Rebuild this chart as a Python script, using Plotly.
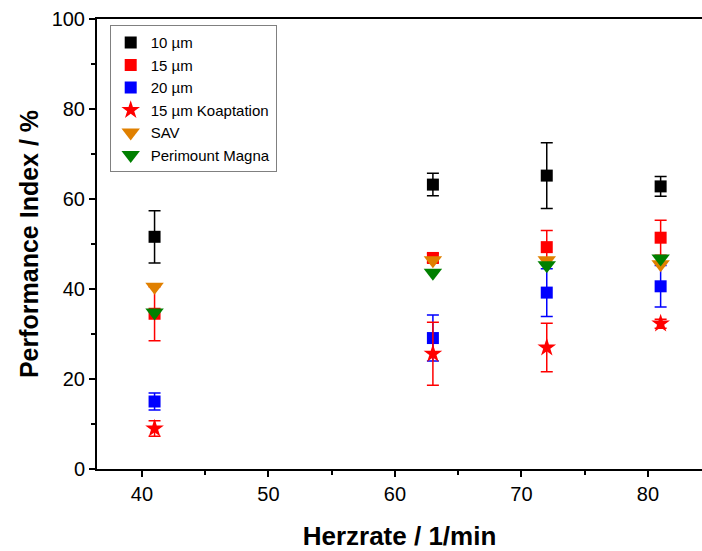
import plotly.graph_objects as go

x = [41, 63, 72, 81]

y10 = [51.6, 63.2, 65.2, 62.8]
e10 = [5.8, 2.5, 7.3, 2.2]

y15 = [34.5, 46.9, 49.3, 51.4]
e15 = [6.0, 1.0, 3.7, 3.9]

y20 = [15.0, 29.1, 39.2, 40.6]
e20 = [1.9, 5.1, 5.3, 4.6]

ykoap = [9.0, 25.6, 27.0, 32.3]
ekoap = [1.7, 7.0, 5.4, 1.0]

ysav = [40.5, 46.4, 46.4, 45.5]
ypm = [34.8, 43.6, 45.3, 46.8]

names = ["10 µm", "15 µm", "20 µm", "15 µm Koaptation", "SAV", "Perimount Magna"]

FONT = "Liberation Sans, Arial, sans-serif"

fig = go.Figure()

def add(yv, ev, name, color, symbol, size):
    fig.add_trace(go.Scatter(
        x=x, y=yv, name=name, mode="markers",
        marker=dict(color=color, symbol=symbol, size=size, line=dict(width=0)),
        error_y=dict(type="data", array=ev, visible=True, color=color,
                     thickness=1.5, width=6) if ev is not None else None,
    ))

add(y10, e10, names[0], "#000000", "square", 12)
add(y15, e15, names[1], "#ff0000", "square", 12)
add(y20, e20, names[2], "#0000ff", "square", 12)
add(ykoap, ekoap, names[3], "#ff0000", "star", 14)
add(ysav, None, names[4], "#e08000", "triangle-down", 16)
add(ypm, None, names[5], "#008000", "triangle-down", 16)

fig.update_layout(
    width=702, height=551,
    margin=dict(l=97, r=0, t=19, b=82, pad=0, autoexpand=False),
    plot_bgcolor="white", paper_bgcolor="white",
    font=dict(family=FONT, color="black", size=20),
    showlegend=True,
    legend=dict(x=0.021, y=0.986, xanchor="left", yanchor="top",
                bordercolor="#808080", borderwidth=1, bgcolor="white",
                font=dict(family=FONT, size=15), tracegroupgap=0),
)

fig.update_xaxes(
    range=[36.45, 84.27], tickmode="array", tickvals=[40, 50, 60, 70, 80],
    automargin=False,
    showgrid=False, zeroline=False, showline=True, linecolor="black", linewidth=2,
    mirror=True, ticks="outside", ticklen=6, tickwidth=2, tickcolor="black",
    minor=dict(tickvals=[45, 55, 65, 75], ticks="outside", ticklen=4, tickwidth=2, tickcolor="black"),
    tickfont=dict(family=FONT, size=20),
    title=dict(text="<b>Herzrate / 1/min</b>", font=dict(family=FONT, size=26), standoff=24),
)
fig.update_yaxes(
    range=[0, 100], tickmode="array", tickvals=[0, 20, 40, 60, 80, 100],
    automargin=False,
    showgrid=False, zeroline=False, showline=True, linecolor="black", linewidth=2,
    mirror=False, ticks="outside", ticklen=6, tickwidth=2, tickcolor="black",
    minor=dict(tickvals=[10, 30, 50, 70, 90], ticks="outside", ticklen=4, tickwidth=2, tickcolor="black"),
    tickfont=dict(family=FONT, size=20),
    title=dict(text="<b>Performance Index / %</b>", font=dict(family=FONT, size=25), standoff=6),
)

fig.write_html("out.html", config={"displayModeBar": False},
               post_script="document.body.style.margin='0px';document.body.style.overflow='hidden';")
